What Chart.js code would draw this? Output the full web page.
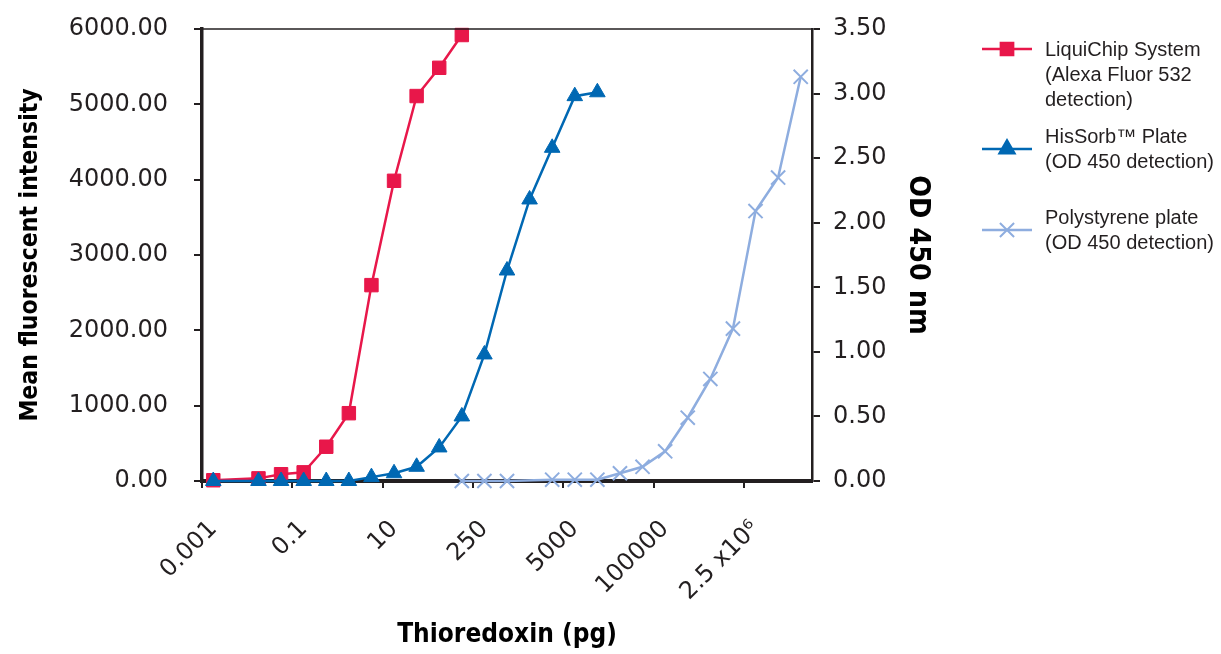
<!DOCTYPE html>
<html>
<head>
<meta charset="utf-8">
<script src="https://cdn.jsdelivr.net/npm/chart.js@4.4.1/dist/chart.umd.min.js"></script>
<style>
  html, body { margin: 0; padding: 0; background: #fff; }
  #wrap { width: 1221px; height: 654px; }
</style>
</head>
<body>
<div id="wrap"><canvas id="chart"></canvas></div>
<script>
const categories = [
  "0.001", "", "", "", "0.1", "", "", "", "10", "", "", "", "250", "", "", "",
  "5000", "", "", "", "100000", "", "", "", "2.5 x10\u2076", "", "",
];

// LiquiChip, mean fluorescent intensity (left axis)
const liquiChip = [
  10, null, 35, 90, 115, 455, 900, 2600, 3985, 5110, 5485, 5920,
  null, null, null, null, null, null, null, null, null, null, null, null, null, null, null,
];

// HisSorb plate, OD 450 (right axis)
const hisSorb = [
  0, null, 0, 0, 0, 0, 0, 0.03, 0.06, 0.11, 0.26, 0.5, 0.98, 1.63, 2.18, 2.58, 2.98, 3.01,
  null, null, null, null, null, null, null, null, null,
];

// Polystyrene plate, OD 450 (right axis)
const polystyrene = [
  null, null, null, null, null, null, null, null, null, null, null,
  0, 0, 0, null, 0.01, 0.01, 0.01, 0.06, 0.11, 0.23, 0.49, 0.79, 1.18, 2.09, 2.35, 3.13,
];

const legendItems = [
  { lines: ["LiquiChip System", "(Alexa Fluor 532", "detection)"], color: "#e8174a", style: "rect", radius: 9 },
  { lines: ["HisSorb\u2122 Plate", "(OD 450 detection)"], color: "#0068b3", style: "triangle", radius: 9 },
  { lines: ["Polystyrene plate", "(OD 450 detection)"], color: "#8eaddf", style: "crossRot", radius: 10 },
];

const INK = "#231f20";
const TICK_FONT = { family: "DejaVu Sans", size: 24 };
const titleFont = (size) => ({ family: "DejaVu Sans Condensed", size, weight: "bold" });

// top border of the plot + legend on the right
const extras = {
  id: "extras",
  afterDraw(chart) {
    const { ctx, chartArea } = chart;
    ctx.save();
    ctx.strokeStyle = INK;
    ctx.lineWidth = 1.5;
    ctx.beginPath();
    ctx.moveTo(chartArea.left, chartArea.top);
    ctx.lineTo(chartArea.right, chartArea.top);
    ctx.stroke();

    const rows = [
      { lineY: 49, textY: [50, 75, 100] },
      { lineY: 149, textY: [137, 162] },
      { lineY: 230, textY: [218, 243] },
    ];
    ctx.font = "20px 'Liberation Sans'";
    ctx.textBaseline = "middle";
    legendItems.forEach((item, i) => {
      const r = rows[i];
      ctx.strokeStyle = item.color;
      ctx.fillStyle = item.color;
      ctx.lineWidth = 2.5;
      ctx.beginPath();
      ctx.moveTo(982, r.lineY);
      ctx.lineTo(1032, r.lineY);
      ctx.stroke();
      ctx.lineWidth = 2;
      Chart.helpers.drawPoint(ctx, { pointStyle: item.style, radius: item.radius, borderWidth: 2, rotation: 0 }, 1007, r.lineY);
      ctx.fillStyle = INK;
      item.lines.forEach((t, j) => ctx.fillText(t, 1045, r.textY[j]));
    });
    ctx.restore();
  },
};

const lineSet = (label, data, color, style, radius, axis, order) => ({
  label,
  data,
  yAxisID: axis,
  borderColor: color,
  backgroundColor: color,
  borderWidth: 2.5,
  pointStyle: style,
  pointRadius: radius,
  pointHoverRadius: radius,
  pointBorderWidth: style === "crossRot" ? 2 : 1,
  spanGaps: true,
  tension: 0,
  clip: false,
  order,
});

// keep the vertical axes from reserving space above/below the plot
const fitY = (width) => (scale) => {
  scale.width = width;
  scale.paddingTop = 0;
  scale.paddingBottom = 0;
};

new Chart(document.getElementById("chart"), {
  type: "line",
  data: {
    labels: categories,
    datasets: [
      lineSet("LiquiChip System (Alexa Fluor 532 detection)", liquiChip, "#e8174a", "rect", 9.5, "y", 3),
      lineSet("HisSorb\u2122 Plate (OD 450 detection)", hisSorb, "#0068b3", "triangle", 9, "y1", 1),
      lineSet("Polystyrene plate (OD 450 detection)", polystyrene, "#8eaddf", "crossRot", 10, "y1", 2),
    ],
  },
  options: {
    responsive: true,
    maintainAspectRatio: false,
    animation: false,
    layout: { padding: { top: 29, right: 279, left: 0, bottom: 0 } },
    plugins: {
      legend: { display: false },
      tooltip: { enabled: false },
    },
    scales: {
      x: {
        type: "category",
        offset: true,
        afterFit: (scale) => { scale.height = 173; },
        grid: {
          offset: true,
          drawOnChartArea: false,
          tickLength: 7,
          lineWidth: 2,
          color: (ctx) => (ctx.index % 4 === 0 ? INK : "rgba(0,0,0,0)"),
        },
        border: { display: true, color: INK, width: 4 },
        ticks: {
          autoSkip: false,
          maxRotation: 45,
          minRotation: 45,
          padding: 27,
          color: INK,
          font: TICK_FONT,
        },
        title: {
          display: true,
          text: "Thioredoxin (pg)",
          color: "#000",
          font: titleFont(26),
          padding: { top: 0, bottom: 3 },
        },
      },
      y: {
        position: "left",
        min: 0,
        max: 6000,
        afterFit: fitY(202),
        grid: { drawOnChartArea: false, tickLength: 8, lineWidth: 2, color: INK },
        border: { display: true, color: INK, width: 3.5 },
        ticks: {
          stepSize: 1000,
          padding: 26,
          color: INK,
          font: TICK_FONT,
          callback: (v) => Number(v).toFixed(2),
        },
        title: {
          display: true,
          text: "Mean fluorescent intensity",
          color: "#000",
          font: titleFont(24.5),
          padding: { top: 16, bottom: 0 },
        },
      },
      y1: {
        position: "right",
        min: 0,
        max: 3.5,
        afterFit: fitY(130),
        grid: { drawOnChartArea: false, tickLength: 8, lineWidth: 2, color: INK },
        border: { display: true, color: INK, width: 2.5 },
        ticks: {
          stepSize: 0.5,
          padding: 13,
          color: INK,
          font: TICK_FONT,
          callback: (v) => Number(v).toFixed(2),
        },
        title: {
          display: true,
          text: "OD 450 nm",
          color: "#000",
          font: titleFont(28.5),
          padding: { top: 7, bottom: 0 },
        },
      },
    },
  },
  plugins: [extras],
});
</script>
</body>
</html>
